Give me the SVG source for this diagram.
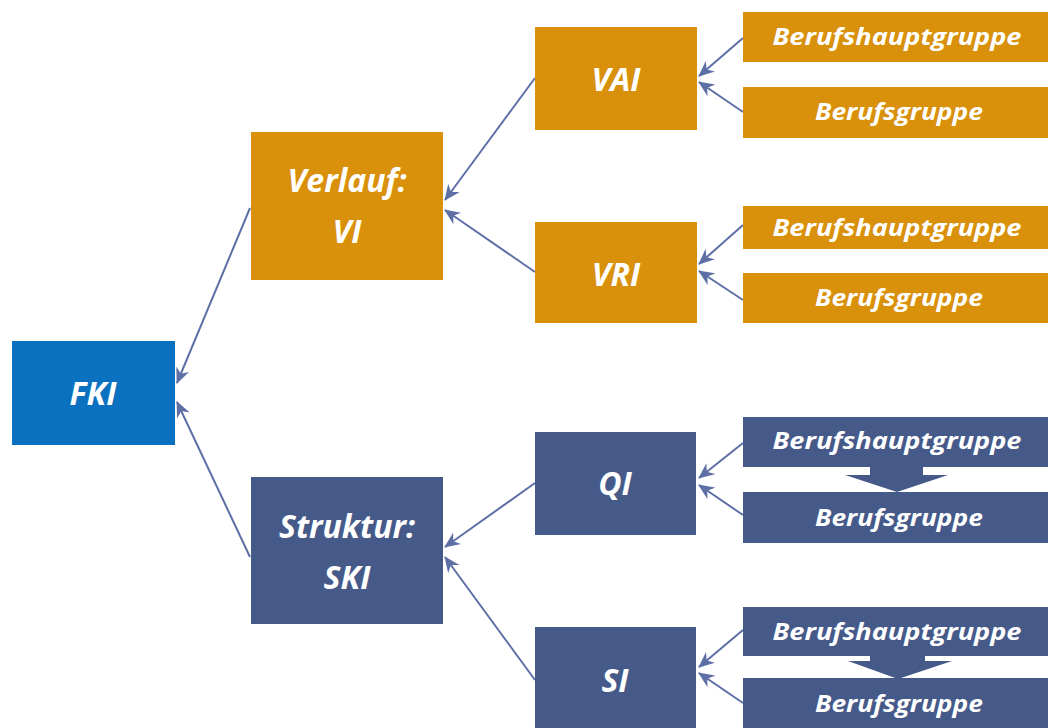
<svg xmlns="http://www.w3.org/2000/svg" width="1048" height="728" viewBox="0 0 1048 728">
<style>
.o{fill:#D9900A}
.n{fill:#465A8A}
.b{fill:#0A70C0}
.t{font-family:"Open Sans","Liberation Sans",sans-serif;font-weight:bold;font-style:italic;fill:#FFFFFF;text-anchor:middle}
.big{font-size:32px}
.sm{font-size:23px}
.c{stroke:#5E6FA6;stroke-width:2;fill:none;marker-end:url(#ah)}
</style>
<defs>
<marker id="ah" markerUnits="userSpaceOnUse" markerWidth="16" markerHeight="14" refX="15" refY="7" orient="auto">
<path d="M0,0 L16,7 L0,14 L5,7 Z" fill="#5E6FA6"/>
</marker>
</defs>
<rect width="1048" height="728" fill="#FFFFFF"/>
<g id="connectors">
<line class="c" x1="250" y1="208" x2="177" y2="383"/>
<line class="c" x1="250" y1="557" x2="177" y2="402"/>
<line class="c" x1="535" y1="78" x2="445" y2="200"/>
<line class="c" x1="535" y1="272" x2="445" y2="210"/>
<line class="c" x1="535" y1="483" x2="445" y2="547"/>
<line class="c" x1="535" y1="680" x2="445" y2="557"/>
<line class="c" x1="743" y1="38" x2="699" y2="76"/>
<line class="c" x1="743" y1="112" x2="699" y2="82"/>
<line class="c" x1="743" y1="225" x2="699" y2="264"/>
<line class="c" x1="743" y1="300" x2="699" y2="271"/>
<line class="c" x1="743" y1="443" x2="699" y2="478"/>
<line class="c" x1="743" y1="515" x2="699" y2="485"/>
<line class="c" x1="743" y1="630" x2="699" y2="667"/>
<line class="c" x1="743" y1="703" x2="699" y2="673"/>
</g>
<g id="FKI"><rect class="b" x="12" y="341" width="163" height="104"/><text class="t big" x="93" y="405">FKI</text></g>
<g id="VI"><rect class="o" x="251" y="132" width="192" height="148"/><text class="t big" x="347" y="192">Verlauf:</text><text class="t big" x="347" y="243">VI</text></g>
<g id="SKI"><rect class="n" x="251" y="477" width="192" height="147"/><text class="t big" x="347" y="538">Struktur:</text><text class="t big" x="347" y="589">SKI</text></g>
<g id="VAI"><rect class="o" x="535" y="27" width="162" height="103"/><text class="t big" x="616" y="91">VAI</text></g>
<g id="VRI"><rect class="o" x="535" y="222" width="162" height="101"/><text class="t big" x="616" y="286">VRI</text></g>
<g id="QI"><rect class="n" x="535" y="432" width="161" height="103"/><text class="t big" x="615" y="495">QI</text></g>
<g id="SI"><rect class="n" x="535" y="627" width="161" height="110"/><text class="t big" x="615" y="692">SI</text></g>
<g id="VAI-BHG"><rect class="o" x="743" y="12" width="310" height="50"/><text class="t sm" x="897" y="45" textLength="249" lengthAdjust="spacingAndGlyphs">Berufshauptgruppe</text></g>
<g id="VAI-BG"><rect class="o" x="743" y="87" width="310" height="51"/><text class="t sm" x="899" y="120" textLength="168" lengthAdjust="spacingAndGlyphs">Berufsgruppe</text></g>
<g id="VRI-BHG"><rect class="o" x="743" y="206" width="310" height="43"/><text class="t sm" x="897" y="236" textLength="249" lengthAdjust="spacingAndGlyphs">Berufshauptgruppe</text></g>
<g id="VRI-BG"><rect class="o" x="743" y="273" width="310" height="50"/><text class="t sm" x="899" y="306" textLength="168" lengthAdjust="spacingAndGlyphs">Berufsgruppe</text></g>
<g id="QI-BHG"><rect class="n" x="743" y="417" width="310" height="50"/><text class="t sm" x="897" y="449" textLength="249" lengthAdjust="spacingAndGlyphs">Berufshauptgruppe</text></g>
<g id="QI-BG"><rect class="n" x="743" y="492" width="310" height="51"/><text class="t sm" x="899" y="526" textLength="168" lengthAdjust="spacingAndGlyphs">Berufsgruppe</text></g>
<g id="SI-BHG"><rect class="n" x="743" y="607" width="310" height="49"/><text class="t sm" x="897" y="640" textLength="249" lengthAdjust="spacingAndGlyphs">Berufshauptgruppe</text></g>
<g id="SI-BG"><rect class="n" x="743" y="678" width="310" height="60"/><text class="t sm" x="899" y="712" textLength="168" lengthAdjust="spacingAndGlyphs">Berufsgruppe</text></g>
<g id="QI-down"><polygon class="n" points="870,466 923,466 923,475 948,475 897,492 845,475 870,475"/></g>
<g id="SI-down"><polygon class="n" points="870,655 925,655 925,661 952,661 898,679 848,661 870,661"/></g>
</svg>
